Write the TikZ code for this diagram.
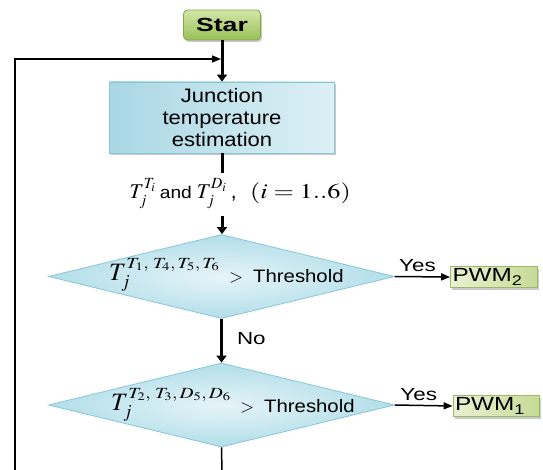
\documentclass[tikz,border=0pt]{standalone}
\usepackage{mathptmx}
\usepackage[no-math]{fontspec}
\setmainfont{Liberation Sans}
\newfontfamily\sA[FakeStretch=1.13]{Liberation Sans}
\newfontfamily\sB[FakeStretch=1.28]{Liberation Sans}
\newfontfamily\sC[FakeStretch=1.4]{Liberation Sans}
\usepackage{graphicx}
\usetikzlibrary{shapes.geometric,arrows.meta,shadows}
\definecolor{grnT}{HTML}{D3E6A6}
\definecolor{grnD}{HTML}{98C058}
\definecolor{grnB}{HTML}{86A84A}
\definecolor{pwmL}{HTML}{EAF2D2}
\definecolor{pwmR}{HTML}{C6DA96}
\definecolor{pwmB}{HTML}{9CB86A}
\definecolor{bluL}{HTML}{A9D7E4}
\definecolor{bluR}{HTML}{DDF0F5}
\definecolor{bluB}{HTML}{86C6D8}
\definecolor{diaI}{HTML}{E6F4F8}
\definecolor{diaO}{HTML}{B2DEE9}
\begin{document}
\begin{tikzpicture}[x=1pt,y=-1pt,
  shd/.style={drop shadow={shadow xshift=1.5pt,shadow yshift=-2pt,opacity=0.35,fill=black!60}},
  starbox/.style={draw=grnB,line width=0.8pt,rounded corners=4pt,top color=grnT,bottom color=grnD,
     minimum width=77pt,minimum height=30pt,inner sep=0pt,shd,font=\sC\bfseries\fontsize{19}{19}\selectfont},
  juncbox/.style={draw=bluB,line width=0.8pt,left color=bluL,right color=bluR,
     minimum width=225pt,minimum height=71pt,inner sep=0pt,align=center,shd,
     font=\sA\fontsize{19.5}{22}\selectfont},
  dia/.style={diamond,draw=bluB,line width=0.8pt,inner color=diaI,outer color=diaO,
     minimum width=346pt,minimum height=84pt,inner sep=0pt},
  pwmbox/.style={draw=pwmB,line width=0.8pt,left color=pwmL,right color=pwmR,
     minimum height=21pt,inner xsep=2pt,inner ysep=0pt,shd,font=\sB\fontsize{19}{19}\selectfont},
  thk/.style={line width=3pt},
  thn/.style={line width=1.5pt},
  tipA/.style={-{Triangle[length=7pt,width=10pt]}},
  tipB/.style={-{Triangle[length=9pt,width=7pt]}},
  lab/.style={font=\sB\fontsize{17.5}{17.5}\selectfont,inner sep=1pt},
  mtxt/.style={anchor=base west,inner sep=0pt}
]
\useasboundingbox (0,0) rectangle (543,470);

% nodes
\node[starbox] (star) at (222,25) {Star};
\node[juncbox] (junc) at (222,117.5) {Junction\\temperature\\estimation};
\node[anchor=base east,inner sep=0pt] (lblA) at (237,199)
  {\fontsize{21}{21}\selectfont$T_j^{T_i}$\hspace{4pt}{\sA\fontsize{17}{17}\selectfont and}\hspace{5pt}$T_j^{D_i}$\hspace{4pt},};
\node[mtxt] (lblB) at (250,199)
  {\scalebox{1.25}[1]{\fontsize{21}{21}\selectfont$(i=1..6)$}};

\node[dia] (d1) at (221.5,276.5) {};
\node[mtxt] (d1m) at (109,280)
  {\fontsize{25}{25}\selectfont$T_j^{\mbox{\scalebox{1.25}[1]{\fontsize{15.5}{15.5}\selectfont$T_1,\,T_4,T_5,T_6$}}}$};
\node[mtxt,font=\sA\fontsize{18}{18}\selectfont] (d1g) at (229,282) {$>$\hspace{10pt}Threshold};

\node[dia] (d2) at (221.5,405) {};
\node[mtxt] (d2m) at (111,410)
  {\fontsize{25}{25}\selectfont$T_j^{\mbox{\scalebox{1.25}[1]{\fontsize{15.5}{15.5}\selectfont$T_2,\,T_3,D_5,D_6$}}}$};
\node[mtxt,font=\sA\fontsize{18}{18}\selectfont] (d2g) at (240,412) {$>$\hspace{10pt}Threshold};

\node[pwmbox] (pwm2) at (494,277) {\makebox[83pt][l]{PWM\textsubscript{2}}};
\node[pwmbox] (pwm1) at (496,406) {\makebox[82pt][l]{PWM\textsubscript{1}}};

% coordinates
\coordinate (c1) at (222,173);
\coordinate (c2) at (222,216);
\coordinate (bot) at (222,472);
\coordinate (bl) at (15,472);
\coordinate (tl) at (15,59);
\coordinate (ml) at (221,59);

% connectors
\draw[thk,tipA] (star.south) -- (star.south |- junc.north);
\draw[thk] (junc.south) -- (c1);
\draw[thk,tipA] (c2) -- (c2 |- d1.north);
\draw[thk,tipA] (d1.south) -- node[lab,anchor=west,xshift=13pt,yshift=2pt] {No} (d2.north);
\draw[thn,tipB] (d1.east) -- node[lab,above=3pt,xshift=-5pt] {Yes} (pwm2.west);
\draw[thn,tipB] (d2.east) -- node[lab,above=3pt,xshift=-5pt] {Yes} (pwm1.west);
\draw[thn] (d2.south) -- (bot);
\draw[thn,tipB] (bl) -- (tl) -- (ml);
\end{tikzpicture}
\end{document}
